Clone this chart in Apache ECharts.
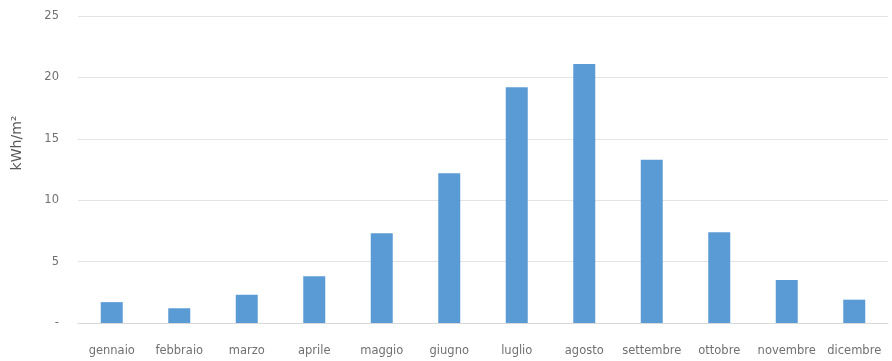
<!DOCTYPE html>
<html>
<head>
<meta charset="utf-8">
<script src="https://cdn.jsdelivr.net/npm/echarts@6/dist/echarts.min.js"></script>
<style>html,body{margin:0;padding:0;background:#fff;}#c{width:892px;height:361px;}</style>
</head>
<body>
<div id="c"></div>
<script>
const months = ['gennaio','febbraio','marzo','aprile','maggio','giugno','luglio','agosto','settembre','ottobre','novembre','dicembre'];
const values = [1.7, 1.2, 2.3, 3.8, 7.3, 12.2, 19.2, 21.1, 13.3, 7.4, 3.5, 1.9];
const yTicks = [0, 5, 10, 15, 20, 25];
const yAxisTitle = 'kWh/m\u00B2';

const chart = echarts.init(document.getElementById('c'), null, {renderer: 'canvas'});
chart.setOption({
  animation: false,
  grid: {left: 78, right: 4, top: 16, bottom: 38},
  graphic: [{
    type: 'text',
    x: 17, y: 143,
    rotation: Math.PI / 2,
    style: {
      text: yAxisTitle,
      fill: '#595959',
      font: '14px "DejaVu Sans"',
      align: 'center',
      verticalAlign: 'middle'
    }
  }],
  xAxis: {
    type: 'category',
    data: months,
    axisLine: {show: true, lineStyle: {color: '#d9d9d9', width: 1}},
    axisTick: {show: false},
    axisLabel: {color: '#707070', fontFamily: 'DejaVu Sans', fontSize: 11.5, margin: 22, interval: 0}
  },
  yAxis: {
    type: 'value',
    min: yTicks[0],
    max: yTicks[yTicks.length - 1],
    interval: 5,
    axisLine: {show: false},
    axisTick: {show: false},
    splitLine: {lineStyle: {color: '#e3e3e3', width: 1}},
    axisLabel: {
      color: '#707070', fontFamily: 'DejaVu Sans', fontSize: 11.5, margin: 19,
      formatter: function (v) { return v === 0 ? '-' : String(v); }
    }
  },
  series: [{
    type: 'bar',
    data: values,
    barWidth: 22,
    itemStyle: {color: '#5b9bd5'}
  }]
});
</script>
</body>
</html>
